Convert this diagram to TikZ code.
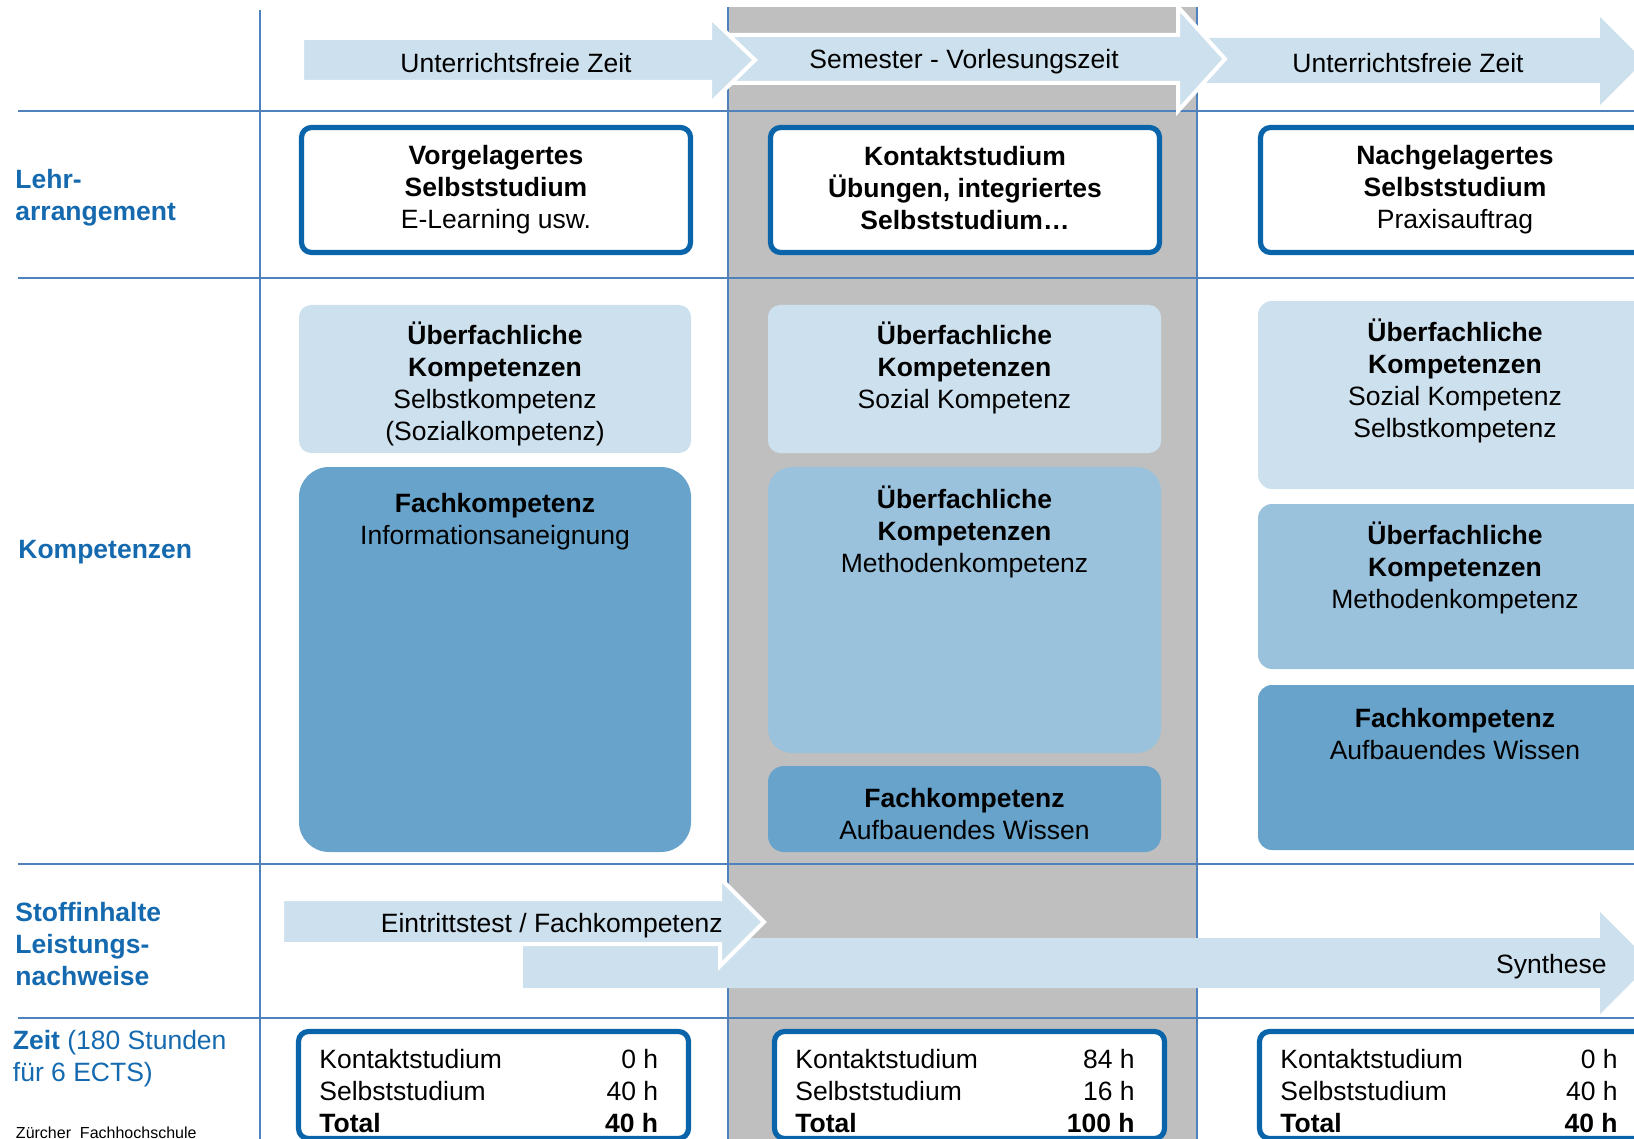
\documentclass[tikz,border=0pt]{standalone}
\usepackage{fontspec}
\setmainfont{Liberation Sans}
\definecolor{lightblue}{RGB}{205,224,237}
\definecolor{midblue}{RGB}{155,194,221}
\definecolor{darkblue}{RGB}{103,163,203}
\definecolor{borderblue}{RGB}{10,100,170}
\definecolor{gridblue}{RGB}{79,129,189}
\definecolor{labelblue}{RGB}{20,105,175}
\definecolor{colgray}{RGB}{191,191,191}
\tikzset{
  txt/.style={font=\fontsize{13.25}{16}\selectfont, align=center, inner sep=0pt, text=black},
  lbl/.style={font=\fontsize{13.25}{16}\selectfont\bfseries, align=left, inner sep=0pt, text=labelblue, anchor=west},
  gridline/.style={draw=gridblue, line width=0.8pt},
  frame/.style={draw=borderblue, line width=2.6pt, fill=white, rounded corners=5pt, inner sep=0pt},
  pale/.style={fill=lightblue, inner sep=0pt},
  medium/.style={fill=midblue, inner sep=0pt},
  deep/.style={fill=darkblue, inner sep=0pt},
  arrowfill/.style={fill=lightblue},
  whiteedge/.style={draw=white, line width=2pt, line join=miter},
}
\begin{document}
\begin{tikzpicture}[x=0.5pt,y=-0.5pt]
\useasboundingbox (0,0) rectangle (1634,1139);
\clip (0,0) rectangle (1634,1139);

% grey semester column
\fill[colgray] (728,7) rectangle (1196,1139);

% grid lines
\draw[gridline] (18,111) -- (1634,111);
\draw[gridline] (18,278) -- (1634,278);
\draw[gridline] (18,864) -- (1634,864);
\draw[gridline] (18,1018) -- (1634,1018);
\draw[gridline] (260,10) -- (260,1139);
\draw[gridline] (728,7) -- (728,1139);
\draw[gridline] (1197,7) -- (1197,1139);

% top arrows
\fill[arrowfill] (1190,38) -- (1600,38) -- (1600,17) -- (1644,61) -- (1600,105) -- (1600,83) -- (1190,83) -- cycle;
\filldraw[arrowfill, whiteedge] (700,35) -- (1178,35) -- (1178,7) -- (1225,59) -- (1178,111) -- (1178,83) -- (700,83) -- cycle;
\filldraw[arrowfill, whiteedge] (302,38) -- (710,38) -- (710,17) -- (755,60) -- (710,104) -- (710,82) -- (302,82) -- cycle;
\node[txt] (t1) at (516,63) {Unterrichtsfreie Zeit};
\node[txt] (t2) at (964,62) {Semester - Vorlesungszeit};
\node[txt] (t3) at (1408,63) {Unterrichtsfreie Zeit};

% left labels
\node[lbl] (l1) at (15,198) {Lehr-\\arrangement};
\node[lbl] (l2) at (18,552) {Kompetenzen};
\node[lbl] (l3) at (15,944) {Stoffinhalte\\Leistungs-\\nachweise};
\node[lbl, font=\fontsize{13.25}{16}\selectfont] (l4) at (12.5,1059) {\textbf{Zeit} (180 Stunden\\f\"ur 6 ECTS)};
\node[inner sep=0pt, anchor=west, font=\fontsize{8}{9}\selectfont] (l5) at (15.6,1133) {Z\"urcher\ \ Fachhochschule};

% Lehrarrangement boxes
\node[frame, minimum width=194.5pt, minimum height=62.5pt] (b1) at (496,190) {};
\node[frame, minimum width=194.5pt, minimum height=62.5pt] (b2) at (965,190) {};
\node[frame, minimum width=194.5pt, minimum height=62.5pt] (b3) at (1455,190) {};
\node[txt] (b1t) at (496,189.5) {\textbf{Vorgelagertes}\\\textbf{Selbststudium}\\E-Learning usw.};
\node[txt] (b2t) at (965,188) {\textbf{Kontaktstudium}\\\textbf{\"Ubungen, integriertes}\\\textbf{Selbststudium…}};
\node[txt] (b3t) at (1455,189.5) {\textbf{Nachgelagertes}\\\textbf{Selbststudium}\\Praxisauftrag};

% Kompetenzen column 1
\node[pale, rounded corners=6pt, minimum width=196pt, minimum height=74pt] (k11) at (495,379) {};
\node[txt] (k11t) at (495,383.5) {\textbf{\"Uberfachliche}\\\textbf{Kompetenzen}\\Selbstkompetenz\\(Sozialkompetenz)};
\node[deep, rounded corners=15pt, minimum width=196pt, minimum height=192.5pt] (k12) at (495,659.5) {};
\node[txt] (k12t) at (495,522) {\textbf{Fachkompetenz}\\Informationsaneignung};

% Kompetenzen column 2
\node[pale, rounded corners=6pt, minimum width=196.5pt, minimum height=74pt] (k21) at (964.5,379) {};
\node[txt] (k21t) at (964.5,367.5) {\textbf{\"Uberfachliche}\\\textbf{Kompetenzen}\\Sozial Kompetenz};
\node[medium, rounded corners=12pt, minimum width=196.5pt, minimum height=143pt] (k22) at (964.5,610) {};
\node[txt] (k22t) at (964.5,532) {\textbf{\"Uberfachliche}\\\textbf{Kompetenzen}\\Methodenkompetenz};
\node[deep, rounded corners=8pt, minimum width=196.5pt, minimum height=43pt] (k23) at (964.5,809) {};
\node[txt] (k23t) at (964.5,814.5) {\textbf{Fachkompetenz}\\Aufbauendes Wissen};

% Kompetenzen column 3
\node[pale, rounded corners=7pt, minimum width=197pt, minimum height=94pt] (k31) at (1455,395) {};
\node[txt] (k31t) at (1455,381) {\textbf{\"Uberfachliche}\\\textbf{Kompetenzen}\\Sozial Kompetenz\\Selbstkompetenz};
\node[medium, rounded corners=7pt, minimum width=197pt, minimum height=82.5pt] (k32) at (1455,586.5) {};
\node[txt] (k32t) at (1455,568) {\textbf{\"Uberfachliche}\\\textbf{Kompetenzen}\\Methodenkompetenz};
\node[deep, rounded corners=7pt, minimum width=197pt, minimum height=82.5pt] (k33) at (1455,767.5) {};
\node[txt] (k33t) at (1455,734.5) {\textbf{Fachkompetenz}\\Aufbauendes Wissen};

% Stoffinhalte arrows
\fill[arrowfill] (523,938) -- (1600,938) -- (1600,912) -- (1651,963) -- (1600,1014) -- (1600,988) -- (523,988) -- cycle;
\filldraw[arrowfill, whiteedge] (282,899) -- (720,899) -- (720,878) -- (764,922) -- (720,966) -- (720,944) -- (282,944) -- cycle;
\node[txt, anchor=east] (s1) at (723,926) {Eintrittstest / Fachkompetenz};
\node[txt, anchor=east] (s2) at (1607,967) {Synthese};

% Zeit boxes
\node[frame, minimum width=195pt, minimum height=53.5pt] (z1) at (493.5,1085) {};
\node[frame, minimum width=195pt, minimum height=53.5pt] (z2) at (969.5,1085) {};
\node[frame, minimum width=195pt, minimum height=53.5pt] (z3) at (1454.5,1085) {};
\node[txt, align=left, anchor=west] (z1l) at (319,1091) {Kontaktstudium\\Selbststudium\\\textbf{Total}};
\node[txt, align=right, anchor=east] (z1r) at (658.6,1091) {0 h\\40 h\\\textbf{40 h}};
\node[txt, align=left, anchor=west] (z2l) at (795,1091) {Kontaktstudium\\Selbststudium\\\textbf{Total}};
\node[txt, align=right, anchor=east] (z2r) at (1135,1091) {84 h\\16 h\\\textbf{100 h}};
\node[txt, align=left, anchor=west] (z3l) at (1280,1091) {Kontaktstudium\\Selbststudium\\\textbf{Total}};
\node[txt, align=right, anchor=east] (z3r) at (1618,1091) {0 h\\40 h\\\textbf{40 h}};
\end{tikzpicture}
\end{document}
